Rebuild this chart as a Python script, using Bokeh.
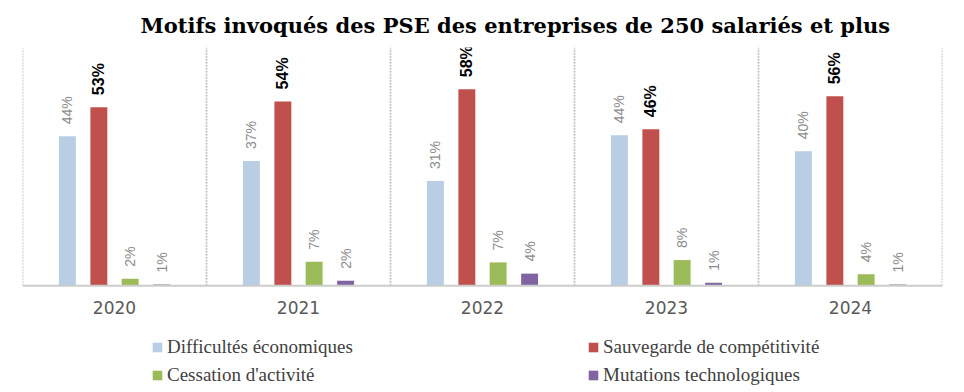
import math
from bokeh.plotting import figure
from bokeh.models import ColumnDataSource, Legend, LegendItem, Span
from bokeh.embed import file_html
from bokeh.resources import INLINE
from bokeh.core.properties import value

years = ["2020", "2021", "2022", "2023", "2024"]
series = ["Difficultés économiques", "Sauvegarde de compétitivité",
          "Cessation d'activité", "Mutations technologiques"]
difficultes = [44.1, 36.8, 30.9, 44.4, 39.7]
sauvegarde = [52.7, 54.4, 58.0, 46.2, 55.9]
cessation = [2.1, 7.1, 6.9, 7.6, 3.4]
mutations = [0.4, 1.5, 3.6, 0.9, 0.4]
labels_diff = ["44%", "37%", "31%", "44%", "40%"]
labels_sauv = ["53%", "54%", "58%", "46%", "56%"]
labels_cess = ["2%", "7%", "7%", "8%", "4%"]
labels_mut = ["1%", "2%", "4%", "1%", "1%"]
colors = ["#B9CDE5", "#C0504D", "#9BBB59", "#8064A2"]
title = "Motifs invoqués des PSE des entreprises de 250 salariés et plus"

all_values = [difficultes, sauvegarde, cessation, mutations]
all_labels = [labels_diff, labels_sauv, labels_cess, labels_mut]
offsets = [-0.256, -0.085, 0.085, 0.256]
y_top = 70.3
y_bottom = -29.7

p = figure(width=950, height=386, x_range=(-0.5, 4.5), y_range=(y_bottom, y_top),
           output_backend="svg", toolbar_location=None,
           min_border_left=22, min_border_right=8, min_border_top=46, min_border_bottom=0)
p.outline_line_color = None
p.background_fill_color = "white"
p.xaxis.visible = False
p.yaxis.visible = False
p.xgrid.visible = False
p.ygrid.visible = False

p.title.text = title
p.title.align = "left"
p.title.offset = 118
p.title.standoff = 20
p.title.text_font = "DejaVu Serif"
p.title.text_font_style = "bold"
p.title.text_font_size = "21px"
p.title.text_color = "#000000"

# group separators (dotted light grey) and baseline
bounds = [i - 0.5 for i in range(len(years) + 1)]
p.segment(x0=bounds, y0=[0] * len(bounds), x1=bounds, y1=[y_top] * len(bounds),
          line_color="#c4c4c4", line_width=1.8, line_dash="2 1")
p.add_layout(Span(location=0, dimension="width", line_color="#cccccc", line_width=2))

# category labels
p.text(x=list(range(len(years))), y=[0] * len(years), text=years,
       text_align="center", text_baseline="middle", y_offset=22,
       text_font=value("DejaVu Sans"), text_font_size="17px", text_color="#595959")

renderers = []
for j in range(4):
    src = ColumnDataSource(dict(
        x=[i + offsets[j] for i in range(len(years))],
        top=all_values[j],
        label=all_labels[j],
    ))
    r = p.vbar(x="x", top="top", width=0.092, source=src,
               fill_color=colors[j], line_color=None)
    renderers.append(r)
    if j == 1:
        p.text(x="x", y="top", text="label", source=src, angle=math.pi / 2,
               text_align="left", text_baseline="middle", y_offset=-12,
               text_font=value("Liberation Sans"), text_font_style="bold",
               text_font_size="16px", text_color="#000000")
    else:
        p.text(x="x", y="top", text="label", source=src, angle=math.pi / 2,
               text_align="left", text_baseline="middle", y_offset=-12,
               text_font=value("Liberation Sans"),
               text_font_size="14px", text_color="#8c8c8c")

def make_legend(idx, loc):
    leg = Legend(items=[LegendItem(label=series[k], renderers=[renderers[k]]) for k in idx],
                 location=loc, orientation="vertical")
    leg.padding = 0
    leg.margin = 0
    leg.border_line_color = None
    leg.background_fill_alpha = 0
    leg.glyph_width = 12
    leg.glyph_height = 12
    leg.label_standoff = 4
    leg.spacing = 6
    leg.label_height = 20
    leg.label_text_font = "Liberation Serif"
    leg.label_text_font_size = "19px"
    leg.label_text_color = "#404040"
    return leg

p.add_layout(make_legend([0, 2], (129, 0)))
p.add_layout(make_legend([1, 3], (565, 0)))

open("out.html", "w").write(file_html(p, INLINE))
